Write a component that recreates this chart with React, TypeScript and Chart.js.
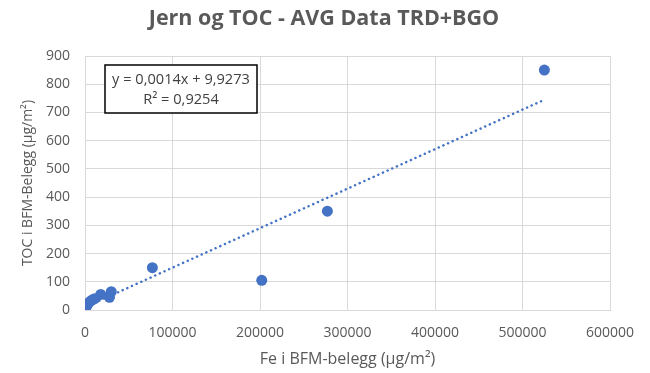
import React, { useEffect, useRef } from "react";
import { Chart, registerables } from "chart.js";

Chart.register(...registerables);

const titleText = "Jern og TOC - AVG Data TRD+BGO";
const xTitle = "Fe i BFM-belegg (µg/m²)";
const yTitle = "TOC i BFM-Belegg (µg/m²)";

const feValues = [500, 1500, 3000, 5000, 8000, 11000, 18000, 28000, 30000, 77000, 202000, 277000, 525000];
const tocValues = [5, 12, 20, 28, 35, 40, 55, 45, 65, 150, 105, 350, 850];

const trendSlope = 0.0014;
const trendIntercept = 9.9273;
const rSquared = "0,9254";
const equationLines = ["y = 0,0014x + 9,9273", "R² = " + rSquared];

const xTicks = [0, 100000, 200000, 300000, 400000, 500000, 600000];
const yTicks = [0, 100, 200, 300, 400, 500, 600, 700, 800, 900];

const FONT = "'Open Sans', 'Liberation Sans', sans-serif";
const GRAY = "#595959";
const BLUE = "#4472C4";

const titleDraw = {
  id: "titleDraw",
  afterDraw(chart: any) {
    const { ctx } = chart;
    ctx.save();
    ctx.fillStyle = GRAY;
    ctx.font = `bold 21.5px ${FONT}`;
    ctx.textAlign = "center";
    ctx.textBaseline = "alphabetic";
    ctx.fillText(titleText, 324, 25);
    ctx.restore();
  },
};

const equationBox = {
  id: "equationBox",
  afterDraw(chart: any) {
    const { ctx, chartArea } = chart;
    const x = chartArea.left + 20;
    const y = chartArea.top + 9;
    const w = 152;
    const h = 48;
    ctx.save();
    ctx.fillStyle = "#ffffff";
    ctx.fillRect(x, y, w, h);
    ctx.strokeStyle = "#000000";
    ctx.lineWidth = 1.5;
    ctx.strokeRect(x, y, w, h);
    ctx.fillStyle = "#404040";
    ctx.font = `14.6px ${FONT}`;
    ctx.textAlign = "center";
    ctx.textBaseline = "middle";
    ctx.fillText(equationLines[0], x + w / 2, y + 15);
    ctx.fillText(equationLines[1], x + w / 2, y + 35);
    ctx.restore();
  },
};

export default function App() {
  const ref = useRef<HTMLCanvasElement | null>(null);

  useEffect(() => {
    if (!ref.current) return;
    const pts = feValues.map((x, i) => ({ x, y: tocValues[i] }));
    const xMin = Math.min(...feValues);
    const xMax = Math.max(...feValues);
    const trend = [
      { x: xMin, y: trendSlope * xMin + trendIntercept },
      { x: xMax, y: trendSlope * xMax + trendIntercept },
    ];
    const chart = new Chart(ref.current, {
      type: "scatter",
      data: {
        datasets: [
          {
            type: "line",
            data: trend,
            borderColor: BLUE,
            borderWidth: 2.5,
            borderDash: [0.1, 5],
            borderCapStyle: "round",
            pointRadius: 0,
            fill: false,
            order: 2,
          } as any,
          {
            data: pts,
            backgroundColor: BLUE,
            borderColor: BLUE,
            pointRadius: 5.5,
            pointBorderWidth: 0,
            order: 1,
          },
        ],
      },
      options: {
        animation: false,
        responsive: false,
        layout: { padding: { left: 0, right: 40, top: 56, bottom: 0 } },
        plugins: {
          legend: { display: false },
          tooltip: { enabled: false },
          title: { display: false },
        },
        scales: {
          x: {
            type: "linear",
            min: 0,
            max: 600000,
            afterBuildTicks: (s: any) => {
              s.ticks = xTicks.map((v) => ({ value: v }));
            },
            afterFit: (s: any) => {
              s.height = 63;
            },
            ticks: {
              color: GRAY,
              font: { family: FONT, size: 14 },
              padding: 15,
              maxRotation: 0,
              callback: (v: any) => String(v),
            },
            grid: { color: "#d9d9d9", drawTicks: false },
            border: { color: "#d9d9d9" },
            title: {
              display: true,
              text: xTitle,
              color: GRAY,
              font: { family: FONT, size: 16, lineHeight: 1.2 },
              padding: { top: 0, bottom: 4.4 },
            },
          },
          y: {
            type: "linear",
            min: 0,
            max: 900,
            afterBuildTicks: (s: any) => {
              s.ticks = yTicks.map((v) => ({ value: v }));
            },
            afterFit: (s: any) => {
              s.width = 85;
            },
            ticks: {
              color: GRAY,
              font: { family: FONT, size: 14 },
              padding: 15,
              callback: (v: any) => String(v),
            },
            grid: { color: "#d9d9d9", drawTicks: false },
            border: { color: "#d9d9d9" },
            title: {
              display: true,
              text: yTitle,
              color: GRAY,
              font: { family: FONT, size: 14, lineHeight: 1.2 },
              padding: { top: 19.6, bottom: 0 },
            },
          },
        },
      },
      plugins: [titleDraw, equationBox],
    });
    return () => chart.destroy();
  }, []);

  return (
    <div style={{ position: "fixed", left: 0, top: 0, width: 650, height: 373, background: "#fff" }}>
      <canvas ref={ref} width={650} height={373} style={{ display: "block" }} />
    </div>
  );
}
